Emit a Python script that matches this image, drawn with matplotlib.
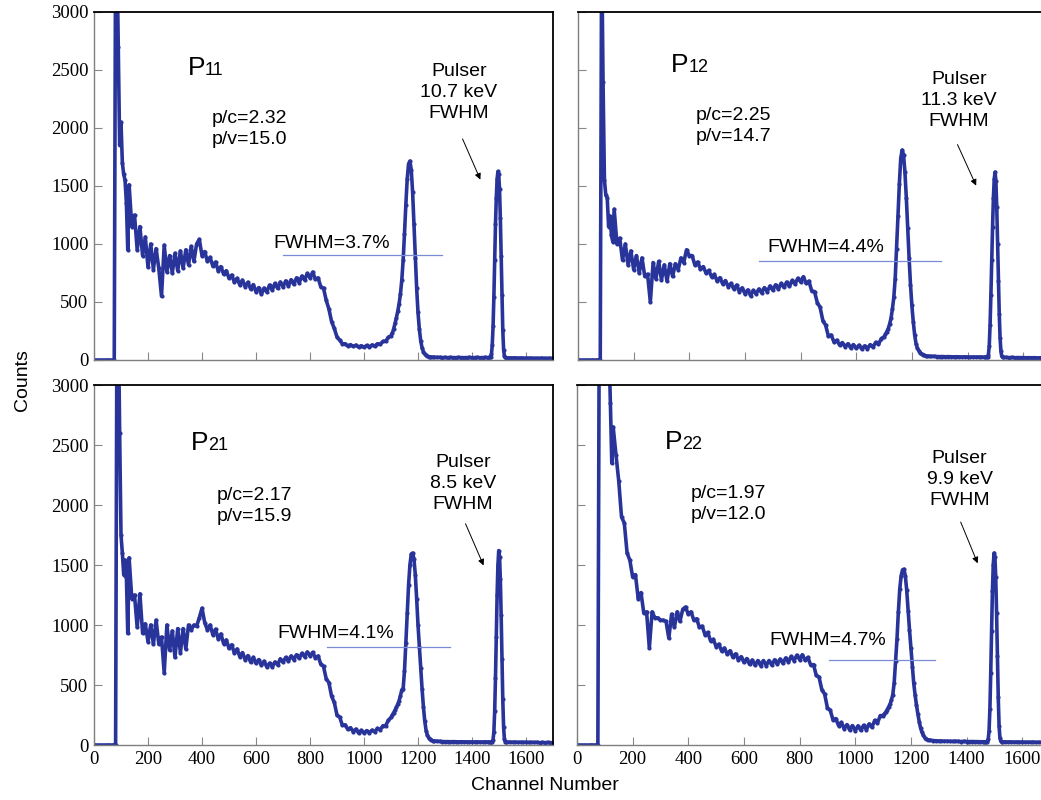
import numpy as np
import matplotlib.pyplot as plt

plt.rcParams['font.family'] = ['Liberation Sans', 'DejaVu Sans']

# channel grid the spectra are sampled on (finer through the spike and the peaks)
channel = np.concatenate([
    [0, 50], np.arange(70, 130, 5), np.arange(130, 1100, 10),
    np.arange(1100, 1260, 5), np.arange(1260, 1460, 10),
    np.arange(1460, 1530, 3), np.arange(1540, 1710, 10)])

p11_counts = [
    0, 0, 0, 0, 3600, 3500, 2700, 1850, 2050, 1700, 1600, 1550, 1350, 950,
    1510, 1150, 1250, 950, 1150, 900, 1060, 800, 1000, 780,
    960, 790, 550, 990, 760, 900, 750, 920, 770, 940,
    790, 950, 820, 980, 850, 1000, 1040, 900, 935, 850,
    885, 810, 845, 770, 805, 740, 770, 705, 732, 670,
    704, 648, 688, 632, 670, 612, 650, 588, 624, 568,
    620, 586, 646, 604, 660, 618, 672, 630, 682, 638,
    692, 652, 708, 666, 724, 690, 746, 708, 758, 695,
    708, 630, 620, 515, 440, 330, 272, 198, 170, 140,
    140, 122, 132, 118, 128, 112, 123, 110, 125, 112,
    130, 120, 140, 136, 160, 162, 195,
    210, 232, 270, 315, 365, 420, 485, 570, 690, 860, 1090, 1340, 1560, 1690, 1715, 1640,
    1450, 1170, 880, 620, 410, 265, 165, 105, 72, 52, 40, 33, 29, 27, 25, 24,
    24, 22, 23, 21, 22, 20, 22, 21, 20, 22, 21, 20, 21, 22, 20, 21, 22, 20, 21, 22,
    21, 22, 22, 26, 50, 130, 290, 540, 860, 1170, 1400, 1560,
    1625, 1600, 1470, 1220, 900, 560, 260, 90, 35, 22, 19, 18,
    18, 17, 18, 16, 17, 15, 16, 15, 16, 14, 15, 14, 15, 14, 13, 14, 13]

p12_counts = [
    0, 0, 0, 0, 0, 3600, 2400, 1550, 1420, 1400, 1150, 1240, 1080, 1020,
    1300, 1000, 1050, 860, 1000, 820, 940, 780, 900, 750,
    880, 720, 740, 500, 840, 700, 850, 690, 820, 680,
    830, 720, 830, 780, 880, 840, 950, 900, 900, 820,
    845, 785, 805, 750, 772, 718, 738, 680, 710, 656,
    685, 632, 660, 612, 646, 590, 622, 572, 604, 555,
    600, 570, 612, 580, 624, 590, 638, 602, 648, 612,
    660, 626, 672, 636, 686, 656, 704, 674, 718, 660,
    680, 595, 590, 495, 455, 340, 300, 205, 215, 155,
    170, 130, 150, 115, 140, 105, 133, 100, 127, 95,
    122, 97, 132, 112, 152, 135, 185,
    200, 220, 245, 270, 310, 360, 440, 540, 700, 960, 1240, 1520, 1740, 1810, 1770, 1620,
    1400, 1140, 880, 650, 470, 330, 215, 140, 100, 80, 62, 52, 46, 40, 36, 34,
    33, 31, 32, 30, 29, 30, 28, 29, 28, 27, 28, 27, 26, 27, 26, 25, 26, 25, 26, 25,
    25, 25, 24, 25, 28, 45, 120, 300, 560, 860, 1150, 1400,
    1560, 1620, 1540, 1320, 1000, 680, 400, 190, 75, 32, 24, 22,
    22, 21, 22, 20, 21, 20, 21, 19, 20, 19, 20, 18, 19, 18, 19, 18, 17]

p21_counts = [
    0, 0, 0, 0, 0, 3600, 3600, 2600, 1750, 1600, 1420, 1540, 1400, 930,
    1560, 1220, 1250, 980, 1260, 930, 1010, 860, 1000, 840,
    1040, 840, 900, 600, 1000, 790, 950, 730, 970, 770,
    970, 800, 1000, 960, 1000, 990, 1060, 1140, 1020, 960,
    1000, 920, 965, 885, 925, 845, 875, 805, 835, 765,
    800, 735, 770, 710, 745, 690, 730, 680, 712, 664,
    698, 650, 682, 650, 692, 668, 718, 690, 730, 700,
    742, 712, 752, 722, 764, 736, 775, 742, 772, 726,
    742, 672, 655, 552, 520, 405, 355, 248, 232, 164,
    168, 130, 144, 112, 132, 100, 122, 100, 120, 102,
    124, 110, 138, 128, 160, 160, 205,
    230, 250, 270, 290, 315, 340, 370, 410, 460, 470, 620, 850, 1100, 1330, 1500, 1590,
    1600, 1550, 1420, 1220, 1000, 820, 640, 470, 320, 200, 120, 80, 58, 46, 40, 36,
    34, 32, 30, 29, 28, 28, 27, 28, 27, 26, 27, 26, 26, 25, 26, 25, 26, 25, 25, 26,
    25, 24, 25, 24, 25, 28, 45, 110, 280, 560, 900, 1250,
    1500, 1620, 1570, 1380, 1080, 720, 380, 150, 50, 28, 25, 24,
    24, 23, 24, 22, 23, 22, 23, 21, 22, 21, 22, 20, 21, 20, 21, 20, 19]

p22_counts = [
    0, 0, 0, 0, 3600, 3600, 3600, 3600, 3600, 3600, 3500, 3300, 2850, 2350,
    2650, 2420, 2200, 1900, 1850, 1600, 1540, 1400, 1420, 1220,
    1270, 1100, 1110, 810, 1110, 1060, 1060, 1040, 1040, 1030,
    890, 1090, 980, 1110, 1030, 1130, 1150, 1090, 1110, 1040,
    1052, 980, 990, 920, 938, 868, 880, 820, 840, 782,
    808, 756, 786, 732, 760, 710, 736, 688, 720, 672,
    708, 664, 704, 662, 704, 662, 704, 666, 710, 674,
    716, 680, 726, 692, 738, 704, 748, 712, 752, 706,
    730, 665, 670, 580, 565, 460, 425, 310, 290, 210,
    220, 162, 188, 137, 170, 125, 162, 120, 160, 122,
    164, 128, 176, 148, 205, 184, 245,
    245, 260, 275, 295, 318, 340, 375, 420, 520, 700, 880, 1110, 1300, 1410, 1460, 1465,
    1410, 1290, 1120, 960, 810, 650, 520, 420, 335, 260, 195, 140, 105, 80, 62, 52,
    44, 40, 37, 35, 34, 33, 32, 32, 31, 30, 31, 30, 29, 30, 29, 28, 29, 28, 28, 27,
    27, 27, 26, 27, 28, 32, 50, 120, 300, 600, 950, 1280,
    1500, 1600, 1570, 1400, 1100, 740, 400, 160, 60, 32, 27, 26,
    26, 25, 26, 24, 25, 24, 25, 23, 24, 23, 24, 22, 23, 22, 23, 22, 21]

names = ['11', '12', '21', '22']
ratios = ['p/c=2.32\np/v=15.0', 'p/c=2.25\np/v=14.7',
          'p/c=2.17\np/v=15.9', 'p/c=1.97\np/v=12.0']
pulser_fwhm = ['10.7', '11.3', '8.5', '9.9']
peak_fwhm = ['3.7', '4.4', '4.1', '4.7']
spectra = [p11_counts, p12_counts, p21_counts, p22_counts]
xticks = list(range(0, 1601, 200))
yticks = list(range(0, 3001, 500))

# where the annotations sit in each panel (data coordinates)
label_pos = [(347, 2453), (335, 2482), (360, 2462), (315, 2466)]
ratio_pos = [(437, 1994), (422, 2014), (453, 1993), (407, 2011)]
pulser_pos = [(1351, 2303), (1370, 2237), (1367, 2178), (1375, 2215)]
arrows = [((1365, 1906), (1431, 1555)), ((1364, 1857), (1431, 1503)),
          ((1376, 1844), (1443, 1496)), ((1379, 1858), (1440, 1514))]
fwhm_line = [(701, 1288, 904), (652, 1304, 852), (864, 1320, 813), (905, 1288, 707)]
fwhm_text = [(664, 1008), (682, 970), (680, 925), (690, 872)]

LINE = '#28349a'
TICKFONT = dict(family='Liberation Serif', fontsize=13.5)
W, H = 1041, 800
fig = plt.figure(figsize=(W / 100, H / 100), dpi=100)
boxes = [(94, 12, 459, 348), (578, 12, 473, 348),
         (94, 385, 459, 360), (577, 385, 473, 360)]

for i, counts in enumerate(spectra):
    assert len(counts) == len(channel)
    x0, y0, w, h = boxes[i]
    ax = fig.add_axes([x0 / W, 1 - (y0 + h) / H, w / W, h / H])
    ax.plot(channel, counts, color=LINE, lw=2.6, marker='o', ms=3, mew=0)
    ax.set_xlim(0, 1700)
    ax.set_ylim(0, 3000)
    ax.set_xticks(xticks, [str(t) for t in xticks] if i >= 2 else [], **TICKFONT)
    ax.set_yticks(yticks, [str(t) for t in yticks] if i % 2 == 0 else [], **TICKFONT)
    ax.tick_params(direction='in', length=6, width=0.8, color='#888888', pad=4)
    for side in ('top', 'right'):
        ax.spines[side].set_color('black')
        ax.spines[side].set_linewidth(1.3)
    for side in ('left', 'bottom'):
        ax.spines[side].set_color('#7f7f7f')
        ax.spines[side].set_linewidth(1.0)

    lx, ly = label_pos[i]
    ax.text(lx, ly, 'P', fontsize=19, va='baseline')
    ax.annotate(names[i], xy=(lx, ly), xytext=(12.5, 0), textcoords='offset points',
                fontsize=13, va='baseline')
    ax.text(*ratio_pos[i], ratios[i], fontsize=14, ha='left', va='center',
            linespacing=1.3)
    ax.text(*pulser_pos[i], f'Pulser\n{pulser_fwhm[i]} keV\nFWHM', fontsize=14,
            ha='center', va='center', multialignment='center', linespacing=1.3)
    tail, head = arrows[i]
    ax.annotate('', xy=head, xytext=tail,
                arrowprops=dict(arrowstyle='-|>', color='black', lw=0.7,
                                mutation_scale=9, shrinkA=0, shrinkB=0))
    fx0, fx1, fy = fwhm_line[i]
    ax.plot([fx0, fx1], [fy, fy], color='#7b8bd6', lw=0.9)
    ax.text(*fwhm_text[i], f'FWHM={peak_fwhm[i]}%', fontsize=14, ha='left', va='center')

fig.text(22 / W, 1 - 380 / H, 'Counts', rotation=90, fontsize=14,
         ha='center', va='center')
fig.text(545 / W, 1 - 785 / H, 'Channel Number', fontsize=14,
         ha='center', va='center')

fig.savefig('out.png', dpi=100)
